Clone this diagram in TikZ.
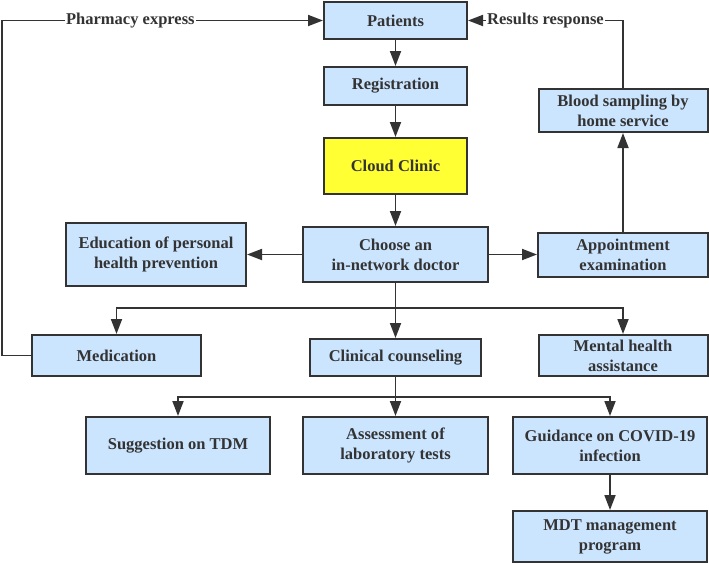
\documentclass[tikz,border=0pt]{standalone}
\usepackage{fontspec}
\newfontfamily\boxfont{Liberation Serif}
\usetikzlibrary{arrows.meta}
\definecolor{boxfill}{HTML}{CCE5FF}
\definecolor{boxline}{HTML}{333333}
\definecolor{cloudfill}{HTML}{FFFF33}
\begin{document}
\begin{tikzpicture}[x=1pt,y=-1pt,
  box/.style={draw=boxline, line width=2pt, fill=boxfill, align=center,
    inner sep=0pt, text=boxline, font=\boxfont\bfseries\fontsize{16.5}{20}\selectfont},
  arr/.style={draw=boxline, line width=1.8pt, -{Triangle[width=11pt,length=15pt]}},
  ln/.style={draw=boxline, line width=1.8pt},
  lbl/.style={fill=white, inner sep=1pt, text=boxline, font=\boxfont\bfseries\fontsize{16.5}{20}\selectfont}]
\useasboundingbox (0,0) rectangle (709,563);
\node[box, minimum width=143pt, minimum height=37pt] (patients) at (395.5,20.5) {Patients};
\node[box, minimum width=143pt, minimum height=38pt] (registration) at (395.5,86) {Registration};
\node[box, fill=cloudfill, minimum width=143pt, minimum height=56pt] (cloud) at (395.5,166) {Cloud Clinic};
\node[box, minimum width=185pt, minimum height=55pt] (choose) at (395.5,254.5) {Choose an\\in-network doctor};
\node[box, minimum width=180pt, minimum height=63pt] (education) at (156,254.5) {Education of personal\\health prevention};
\node[box, minimum width=170pt, minimum height=44pt] (appointment) at (623,254.5) {Appointment\\examination};
\node[box, minimum width=169pt, minimum height=43pt] (blood) at (623,110.5) {Blood sampling by\\home service};
\node[box, minimum width=169pt, minimum height=41pt] (medication) at (116.5,355.5) {Medication};
\node[box, minimum width=171pt, minimum height=37pt] (clinical) at (395.5,357.5) {Clinical counseling};
\node[box, minimum width=169pt, minimum height=41pt] (mental) at (623,355.5) {Mental health\\assistance};
\node[box, minimum width=184pt, minimum height=57pt] (suggestion) at (178,445.5) {Suggestion on TDM};
\node[box, minimum width=185pt, minimum height=57pt] (assessment) at (395.5,445.5) {Assessment of\\laboratory tests};
\node[box, minimum width=194pt, minimum height=57pt] (guidance) at (610,445.5) {Guidance on COVID-19\\infection};
\node[box, minimum width=194pt, minimum height=51pt] (mdt) at (610,536.5) {MDT management\\program};
\coordinate (b1) at (395.5,308);
\coordinate (b2) at (395.5,397);
\coordinate (pl) at (2,355.5);
\draw[arr] (patients) -- (registration);
\draw[arr] (registration) -- (cloud);
\draw[arr] (cloud) -- (choose);
\draw[arr] (choose) -- (education);
\draw[arr] (choose) -- (appointment);
\draw[arr] (appointment) -- (blood);
\draw[arr] (blood.north) |- node[lbl, pos=0.75] {Results response} (patients.east);
\draw[arr] (medication.west) -- (pl) |- node[lbl, pos=0.7] {Pharmacy express} (patients.west);
\draw[ln] (choose.south) -- (b1);
\draw[arr] (b1) -| (medication.north);
\draw[arr] (b1) -- (clinical.north);
\draw[arr] (b1) -| (mental.north);
\draw[ln] (clinical.south) -- (b2);
\draw[arr] (b2) -| (suggestion.north);
\draw[arr] (b2) -- (assessment.north);
\draw[arr] (b2) -| (guidance.north);
\draw[arr] (guidance) -- (mdt);
\end{tikzpicture}
\end{document}
